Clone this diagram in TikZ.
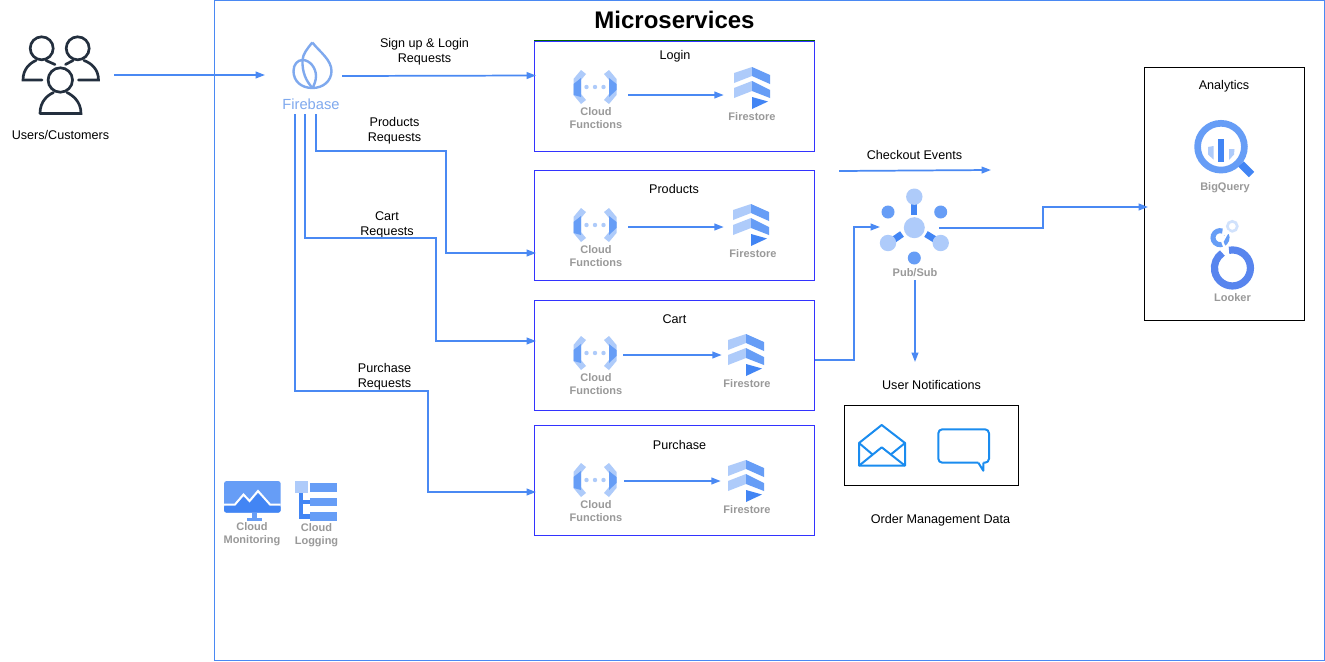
\documentclass[tikz,border=0pt]{standalone}
\usepackage{fontspec}
\setmainfont{Liberation Sans}
\usetikzlibrary{arrows.meta,fit}
\definecolor{gl}{HTML}{AECBFA}
\definecolor{gm}{HTML}{669DF6}
\definecolor{gd}{HTML}{4285F4}
\definecolor{wire}{HTML}{4A89F3}
\definecolor{mail}{HTML}{1A8CEF}
\definecolor{fbc}{HTML}{7FA9EE}
\definecolor{ink}{HTML}{232F3E}
\definecolor{lookb}{HTML}{5885EE}
\tikzset{
  x=0.75pt,y=-0.75pt,
  wirefl/.style={draw=wire,line width=1.3pt,-{Triangle[length=7pt,width=5pt]}},
  svcbox/.style={draw=blue!80!white,line width=0.75pt,inner sep=0pt,fill=none},
  blackbox/.style={draw=black,line width=0.75pt,inner sep=0pt},
  lbl/.style={font=\fontsize{9.45}{11.25}\selectfont,align=center,inner sep=0pt,text=black},
  gry/.style={font=\bfseries\fontsize{8.25}{9.75}\selectfont,align=center,inner sep=0pt,text=black!40},
  hold/.style={inner sep=0pt,minimum width=#1*0.75pt,minimum height=20pt},
}
\newcommand\cfIcon[2]{\begin{scope}[shift={(#1,#2)}]
  \fill[gl] (-14,-17)--(-21.5,-8)--(-21.5,8)--(-14,17)--(-9,13)--(-14,7)--(-14,-7)--(-9,-13)--cycle;
  \fill[gl] (14,-17)--(21.5,-8)--(21.5,8)--(14,17)--(9,13)--(14,7)--(14,-7)--(9,-13)--cycle;
  \fill[gm] (-14,-9)--(-21.5,-3)--(-21.5,8)--(-14,10)--cycle;
  \fill[gm] (14,-9)--(21.5,-3)--(21.5,3)--(14,10)--cycle;
  \foreach \d in {-8.5,0,8.5}{\fill[gl] (\d,0) circle[radius=2.2];}
\end{scope}}
\newcommand\fsIcon[2]{\begin{scope}[shift={(#1,#2)}]
  \fill[gl] (0,6)--(18,0)--(18,9)--(0,16)--cycle;
  \fill[gm] (18,0)--(36,8)--(36,17)--(18,9)--cycle;
  \fill[gl] (0,21)--(18,14)--(18,24)--(0,31)--cycle;
  \fill[gm] (18,14)--(36,23)--(36,31)--(18,24)--cycle;
  \fill[gd] (18,30)--(34,34.5)--(18,42)--cycle;
\end{scope}}
\begin{document}
\begin{tikzpicture}
\useasboundingbox (0,0) rectangle (1325,661);
\fill[white] (0,0) rectangle (1325,661);
% containers
\node[fit={(214.5,0.5)(1324,660)},draw=wire,line width=0.75pt,inner sep=0pt] (micro) {};
\node[font=\bfseries\fontsize{18}{20}\selectfont,inner sep=0pt] (microt) at (674.5,20) {Microservices};
\node[fit={(534.5,41)(814.5,151.5)},svcbox] (loginbox) {};
\draw[draw=green!40!black,line width=1.1pt] (loginbox.north west) -- (loginbox.north east);
\node[fit={(534.5,170.5)(814.5,280.5)},svcbox] (prodbox) {};
\node[fit={(534.5,300.5)(814.5,410.5)},svcbox] (cartbox) {};
\node[fit={(534.5,425.5)(814.5,535.5)},svcbox] (purbox) {};
\node[fit={(1144.5,67.5)(1304.5,320.5)},blackbox] (anabox) {};
\node[fit={(844.5,405.5)(1018.5,485.5)},blackbox] (notbox) {};
% section titles
\node[lbl] (t1) at (675,56.3) {Login};
\node[lbl] (t2) at (674,189) {Products};
\node[lbl] (t3) at (674.5,319) {Cart};
\node[lbl] (t4) at (679.5,445) {Purchase};
\node[lbl] (t5) at (1224,86.3) {Analytics};
% users
\begin{scope}[draw=ink,line width=2pt,line cap=round]
  \draw (41.7,48.3) circle[radius=11.5];
  \draw (77.7,48.3) circle[radius=11.5];
  \draw (60.3,80) circle[radius=12.2];
  \draw (42,80)--(23,80) .. controls (23,69) and (30,63) .. (36,60.5);
  \draw (46,60.5) -- (55,64.5);
  \draw (78.5,80)--(98.5,80) .. controls (98.5,69) and (91,63) .. (84,60.5);
  \draw (73,60.5) -- (65.5,64.5);
  \draw (40,113.5)--(81,113.5) .. controls (81,101) and (72,95) .. (67,92.5) (53.5,92.5) .. controls (48,95) and (40,101) .. (40,113.5);
\end{scope}
\node[lbl] (users) at (60.5,135) {Users/Customers};
% firebase
\begin{scope}[draw=fbc,line width=1.8pt,line join=round]
  \draw (312.3,42.5) .. controls (320,52) and (331.5,60) .. (331.5,71) .. controls (331.5,81) and (323,88) .. (312.5,88)
     .. controls (301,88) and (293.5,81) .. (293.5,71) .. controls (293.5,64.5) and (297.5,60) .. (302.5,60)
     .. controls (310,60) and (316,68) .. (316,76) .. controls (316,81) and (314,85) .. (312.5,88);
  \draw (312.3,42.5) .. controls (307,49) and (303,54) .. (302.5,60) .. controls (302,72) and (306,81) .. (312.5,88);
\end{scope}
\node[inner sep=0pt,text=fbc,font=\fontsize{11}{12}\selectfont] (fbtxt) at (311,104.5) {Firebase};
% services
\cfIcon{595}{87}\node[gry] (c1) at (596,118) {Cloud\\Functions};
\cfIcon{595}{225}\node[gry] (c2) at (596,256) {Cloud\\Functions};
\cfIcon{595}{353}\node[gry] (c3) at (596,384) {Cloud\\Functions};
\cfIcon{595}{480}\node[gry] (c4) at (596,511) {Cloud\\Functions};
\fsIcon{734}{67}\node[gry] (f1) at (752,116.5) {Firestore};
\fsIcon{733}{204}\node[gry] (f2) at (753,253.5) {Firestore};
\fsIcon{728}{334}\node[gry] (f3) at (747,383.5) {Firestore};
\fsIcon{728}{460}\node[gry] (f4) at (747,509.5) {Firestore};
\node[hold=66] (cf1) at (595,95) {};
\node[hold=54] (fs1) at (751,95) {};
\node[hold=66] (cf2) at (595,227) {};
\node[hold=54] (fs2) at (751,227) {};
\node[hold=56] (cf3) at (595,355) {};
\node[hold=50] (fs3) at (747,355) {};
\node[hold=58] (cf4) at (595,481) {};
\node[hold=50] (fs4) at (746,481) {};
\draw[wirefl] (cf1.east)--(fs1.west);
\draw[wirefl] (cf2.east)--(fs2.west);
\draw[wirefl] (cf3.east)--(fs3.west);
\draw[wirefl] (cf4.east)--(fs4.west);
% pubsub
\fill[gd] (911.3,204) rectangle (917.3,215);
\draw[gd,line width=5pt] (902,234) -- (894,239.5);
\draw[gd,line width=5pt] (926,234) -- (935,239.5);
\fill[gl] (914.3,227.7) circle[radius=10.5];
\fill[gl] (914.3,196.7) circle[radius=8.2];
\fill[gl] (888,243) circle[radius=8.2];
\fill[gl] (940.7,243) circle[radius=8.2];
\fill[gm] (888,212) circle[radius=6.5];
\fill[gm] (940.7,212) circle[radius=6.5];
\fill[gm] (914.3,258) circle[radius=6.5];
\node[gry] (ps) at (915,272.5) {Pub/Sub};
% bigquery
\draw[gm,line width=5pt] (1221,146.7) circle[radius=23.4];
\draw[gd,line width=5.6pt] (1241,164)--(1251.5,174.5);
\fill[gd] (1218,139) rectangle (1224,162);
\fill[gl] (1208,147)--(1213.5,146)--(1213.5,159.5)--(1208,154.5)--cycle;
\fill[gl] (1229,149)--(1234.5,149)--(1234,154.5)--(1229,160)--cycle;
\node[gry] (bq) at (1225,187.5) {BigQuery};
% looker
\draw[gm,line width=3.8pt] (1222.4,231.1) arc[start angle=-70,end angle=-385,radius=7];
\draw[gm!30,line width=2pt] (1232.3,226.3) circle[radius=5];
\draw[white,line width=1.7pt] (1228.5,230.5)--(1222.3,241.7)--(1226.7,253);
\draw[lookb,line width=5.4pt] (1229,250.3) arc[start angle=-101,end angle=236,radius=18];
\node[gry] (lk) at (1232.5,297.5) {Looker};
% notifications
\begin{scope}[draw=mail,line width=1.5pt,line join=round]
  \draw (859,443)--(881.7,425)--(905,443)--(905,465.7)--(859,465.7)--cycle;
  \draw (859,465.7)--(881.7,447.3)--(905,465.7);
  \draw (859,443)--(872.3,454.3) (905,443)--(891,454.3);
  \draw[rounded corners=3pt] (978.3,462.7)--(938.3,462.7)--(938.3,429.3)--(989,429.3)--(989,462.7)--(983.3,462.7);
  \draw (978.3,462.7)--(983.3,470.7)--(983.3,462.7);
\end{scope}
% monitoring
\fill[gm,rounded corners=2pt] (224,481) rectangle (280.7,512.7);
\fill[gd,rounded corners=2pt] (224,505)--(236,505)--(244,496)--(250,503)--(258,493)--(270,505)--(280.7,505)--(280.7,512.7)--(224,512.7)--cycle;
\draw[white,line width=1.5pt] (224,504.5)--(235,504.5)--(243.5,494.5)--(249.5,501)--(258,491)--(270,504.5)--(280.7,504.5);
\fill[gm] (251.7,512.7) rectangle (256.7,518.3);
\fill[gm] (247.3,518.3) rectangle (261.7,520.5);
\node[gry] (cm) at (252,534) {Cloud\\Monitoring};
% logging
\fill[gl] (295,481) rectangle (307.7,493.3);
\fill[gm] (310,482.7) rectangle (337.3,491.7);
\fill[gm] (310,497.7) rectangle (337.3,506);
\fill[gm] (310,512.3) rectangle (337.3,520.7);
\fill[gd] (299.3,493.3) rectangle (303.3,518.5);
\fill[gd] (303.3,500) rectangle (310,504);
\fill[gd] (299.3,514.3) rectangle (310,519);
\node[gry] (cl) at (316.5,535) {Cloud\\Logging};
% other labels
\node[lbl] (a1) at (424.5,51.7) {Sign up \& Login\\Requests};
\node[lbl] (a2) at (394.5,130.7) {Products\\Requests};
\node[lbl] (a3) at (387,224.7) {Cart\\Requests};
\node[lbl] (a4) at (384.5,376.7) {Purchase\\Requests};
\node[lbl] (a5) at (914.5,155) {Checkout Events};
\node[lbl] (a6) at (931.5,385) {User Notifications};
\node[lbl] (a7) at (940.5,520.7) {Order Management Data};
% ports
\node[hold=108] (uport) at (60,75) {};
\coordinate (fwest) at (265,75);
\coordinate (feast) at (342,76);
\coordinate (fa) at (316,114);
\coordinate (fb) at (305,114);
\coordinate (fc) at (295,114);
\coordinate (lin) at (536,75.5);
\coordinate (pin) at (536,253);
\coordinate (cin) at (536,341);
\coordinate (uin) at (536,492);
\coordinate (cout) at (815,360);
\coordinate (psin) at (880,227);
\coordinate (psout) at (939,228);
\coordinate (psdown) at (915,280);
\coordinate (anin) at (1148,207);
\coordinate (notin) at (915,362);
\coordinate (chka) at (839,171);
\coordinate (chkb) at (991,170);
% connectors
\draw[wirefl] (uport.east)--(fwest);
\draw[wirefl] (feast)--(lin);
\draw[wirefl] (fa)|-(446,151)|-(pin);
\draw[wirefl] (fb)|-(436,238)|-(cin);
\draw[wirefl] (fc)|-(428,391)|-(uin);
\draw[wirefl] (cout)-|(854,227)--(psin);
\draw[wirefl] (psout)-|(1043,207)--(anin);
\draw[wirefl] (psdown)--(notin);
\draw[wirefl] (chka)--(chkb);
\end{tikzpicture}
\end{document}
